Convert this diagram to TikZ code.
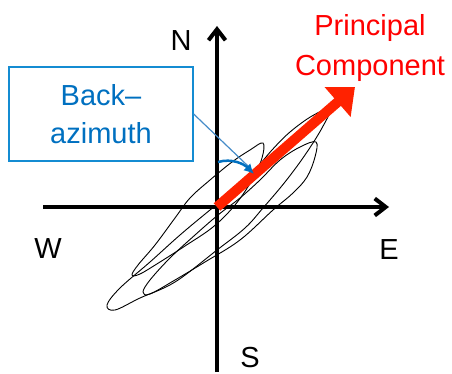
\documentclass[tikz,border=0pt]{standalone}
\usepackage{fontspec}
\setmainfont{Liberation Sans}
\usetikzlibrary{arrows.meta, positioning}

\definecolor{pcred}{RGB}{255,34,0}
\definecolor{txtred}{RGB}{255,0,0}
\definecolor{azblue}{RGB}{0,112,192}
\definecolor{boxblue}{RGB}{20,140,210}
\definecolor{lineblue}{RGB}{70,140,200}

\begin{document}
\begin{tikzpicture}[
    x=1pt, y=-1pt,
    font=\fontsize{29}{38}\selectfont,
    axis/.style={line width=4pt, -{Straight Barb[length=11pt, width=17pt]}},
    trace/.style={line width=0.9pt},
    pcarrow/.style={pcred, line width=10pt, -{Triangle[length=23pt, width=38pt]}},
    azarrow/.style={azblue, line width=2.5pt, -{Latex[length=10pt, width=10pt]}},
    backbox/.style={draw=boxblue, line width=1.3pt, text=azblue, align=center,
        minimum width=184pt, minimum height=94pt}
]
\useasboundingbox (0,0) rectangle (452,374);

% --- particle motion ---
\draw[trace] plot[smooth cycle, tension=0.6] coordinates {
    (263,143) (250,150) (232,162) (210,180) (190,198) (175,218) (155,245)
    (138,265) (132,275) (140,274) (160,262) (185,246) (213,227) (235,205)
    (252,180) (262,158)};
\draw[trace] plot[smooth cycle, tension=0.6] coordinates {
    (330,109) (312,116) (290,132) (272,150) (255,170) (235,190) (210,210)
    (180,235) (150,262) (120,288) (107,305) (115,310) (140,298) (175,282)
    (217,250) (245,228) (263,208) (285,182) (305,155) (322,128)};
\draw[trace] plot[smooth cycle, tension=0.6] coordinates {
    (316,142) (300,147) (280,160) (260,180) (240,198) (218,215) (195,235)
    (170,258) (150,280) (143,292) (150,294) (175,280) (205,262) (240,240)
    (273,210) (293,193) (307,177) (315,157)};

% --- axes ---
\coordinate (O) at (217,207);
\coordinate (westend) at (43,207);
\coordinate (eastend) at (389,207);
\coordinate (southend) at (217,372);
\coordinate (northend) at (217,26);
\draw[axis] (westend) -- (eastend);
\draw[axis] (southend) -- (northend);

\node (N) at (181,41) {N};
\node (W) at (48,249) {W};
\node (E) at (389,250) {E};
\node[inner sep=1pt] (S) at (250,358) {S};

% --- principal component ---
\coordinate (pctip) at (355,87);
\draw[pcarrow] (O) -- (pctip);
\node[text=txtred, align=center, font=\fontsize{29}{40}\selectfont] (pc) at (370,48)
    {Principal\\Component};

% --- back-azimuth ---
\node[backbox] (box) at (101,114) {Back–\\azimuth};
\coordinate (azstart) at (218,162);
\coordinate (azend) at (254,174);
\coordinate (azlink) at (248,166);
\draw[lineblue, line width=1.2pt] (box.east) -- (azlink);
\draw[azarrow] (azstart) .. controls (232,158) and (244,164) .. (azend);

\end{tikzpicture}
\end{document}
